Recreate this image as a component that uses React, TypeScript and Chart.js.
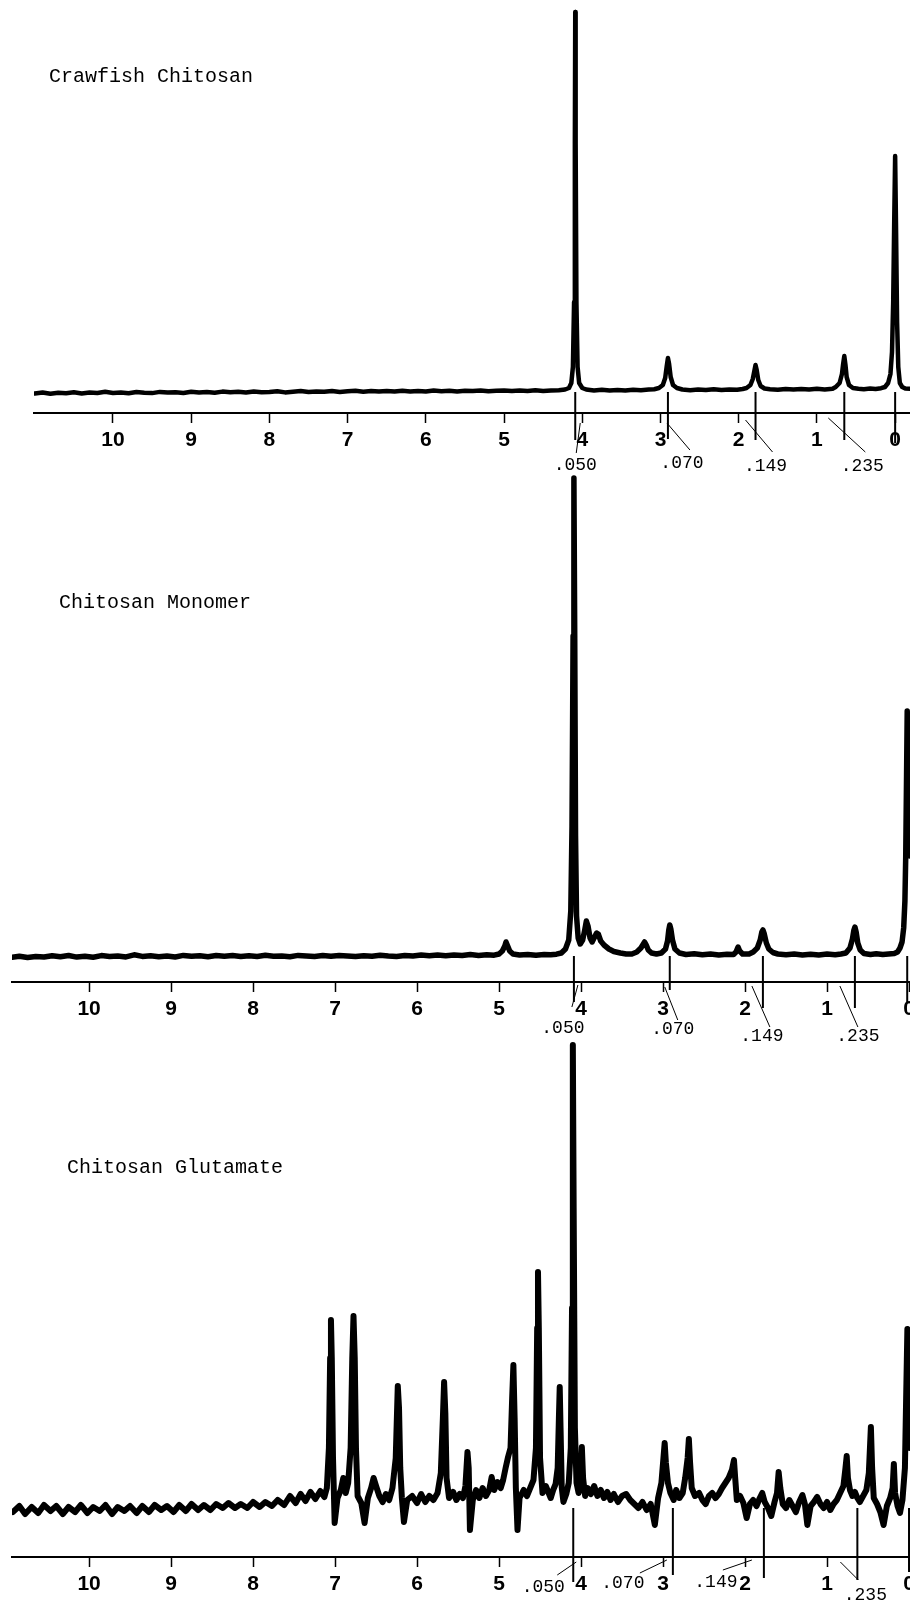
import React, { useEffect, useRef } from 'react';
import { Chart, registerables } from 'chart.js';

Chart.register(...registerables);

// ---------- data (chemical shift ppm, intensity above baseline) ----------
const tickValues = [10, 9, 8, 7, 6, 5, 4, 3, 2, 1, 0];
const integralLabels = ['.050', '.070', '.149', '.235', ''];

const crawfishSpectrum: [number, number][] = [
  [11.0,-1.5],[10.9,-0.5],[10.8,-1.8],[10.7,-0.8],[10.6,-1.2],[10.5,-0.3],[10.4,-1.4],[10.3,-0.6],[10.2,-1.0],[10.1,0.2],
  [10.0,-0.9],[9.9,-0.4],[9.8,-1.3],[9.7,0.0],[9.6,-0.7],[9.5,-1.1],[9.4,0.1],[9.3,-0.6],[9.2,-0.2],[9.1,-1.0],
  [9.0,0.3],[8.9,-0.5],[8.8,0.0],[8.7,-0.8],[8.6,0.4],[8.5,-0.3],[8.4,0.2],[8.3,-0.6],[8.2,0.5],[8.1,-0.2],
  [8.0,0.1],[7.9,0.8],[7.8,-0.4],[7.7,0.3],[7.6,0.9],[7.5,-0.1],[7.4,0.6],[7.3,0.2],[7.2,1.0],[7.1,0.0],
  [7.0,0.7],[6.9,1.2],[6.8,0.3],[6.7,0.9],[6.6,0.4],[6.5,1.1],[6.4,0.5],[6.3,1.3],[6.2,0.6],[6.1,1.0],
  [6.0,0.4],[5.9,1.4],[5.8,0.8],[5.7,1.2],[5.6,0.5],[5.5,1.3],[5.4,0.9],[5.3,1.5],[5.2,0.7],[5.1,1.2],
  [5.0,1.6],[4.9,0.9],[4.8,1.4],[4.7,1.0],[4.6,1.7],[4.5,1.1],[4.4,1.5],[4.3,1.8],
  [4.22,2.5],[4.17,4],[4.14,9],[4.12,25],[4.105,90],[4.095,250],[4.09,380],[4.085,250],[4.075,90],[4.06,25],[4.04,9],[4.0,4],[3.95,2.5],
  [3.85,1.6],[3.75,2.2],[3.65,1.5],[3.55,2.0],[3.45,1.4],[3.35,2.3],[3.25,1.7],[3.15,2.4],[3.08,2.8],
  [3.02,4],[2.97,7],[2.94,14],[2.92,26],[2.905,34],[2.89,28],[2.87,15],[2.84,7],[2.79,4],
  [2.72,2.5],[2.62,1.8],[2.52,2.6],[2.42,1.9],[2.32,2.7],[2.22,2.0],[2.12,2.6],[2.02,2.2],[1.95,3.0],
  [1.9,4],[1.85,7],[1.82,13],[1.8,21],[1.785,27],[1.77,22],[1.75,12],[1.72,6],[1.67,3.5],
  [1.6,2.8],[1.5,2.2],[1.4,3.0],[1.3,2.4],[1.2,3.1],[1.1,2.5],[1.0,3.2],[0.9,2.6],[0.8,3.3],
  [0.76,5],[0.71,9],[0.68,18],[0.665,28],[0.65,36],[0.635,27],[0.62,15],[0.59,7],[0.54,4],
  [0.47,3.2],[0.4,2.8],[0.32,3.4],[0.25,3.0],[0.18,3.8],
  [0.13,5],[0.09,9],[0.06,18],[0.04,40],[0.025,90],[0.012,170],[0.0,236],[-0.012,160],[-0.025,70],[-0.04,25],[-0.06,9],[-0.09,5],[-0.13,3.5],[-0.19,3.2],
];

const monomerSpectrum: [number, number][] = [
  [10.94,-1.2],[10.85,-0.2],[10.75,-1.5],[10.65,-0.4],[10.55,-1.0],[10.45,0.3],[10.35,-0.8],[10.25,0.5],[10.15,-1.1],[10.05,-0.3],
  [9.95,-1.2],[9.85,0.4],[9.75,-0.6],[9.65,0.1],[9.55,-0.9],[9.45,1.2],[9.35,-0.4],[9.25,0.3],[9.15,-0.7],[9.05,0.0],
  [8.95,-1.0],[8.85,0.6],[8.75,-0.3],[8.65,0.2],[8.55,-0.8],[8.45,0.5],[8.35,-0.2],[8.25,0.4],[8.15,-0.6],[8.05,0.3],
  [7.95,-0.4],[7.85,0.7],[7.75,-0.2],[7.65,0.1],[7.55,-0.7],[7.45,0.6],[7.35,0.0],[7.25,-0.5],[7.15,0.4],[7.05,-0.3],
  [6.95,0.5],[6.85,0.0],[6.75,-0.6],[6.65,0.3],[6.55,-0.2],[6.45,0.8],[6.35,0.1],[6.25,-0.4],[6.15,0.5],[6.05,0.0],
  [5.95,0.9],[5.85,0.2],[5.75,1.0],[5.65,0.3],[5.55,1.1],[5.45,0.4],[5.35,1.5],[5.25,0.6],[5.15,1.3],[5.06,0.8],
  [5.0,2],[4.96,5],[4.93,10],[4.915,14],[4.9,11],[4.87,5],[4.83,2],
  [4.75,1.0],[4.65,1.6],[4.55,0.8],[4.45,1.4],[4.37,1.2],[4.3,1.8],
  [4.24,3],[4.19,7],[4.15,16],[4.125,45],[4.11,130],[4.097,320],[4.087,478],[4.077,320],[4.067,120],[4.055,40],[4.035,18],[4.01,12],
  [3.98,16],[3.955,26],[3.935,35],[3.915,30],[3.89,18],[3.865,14],
  [3.835,19],[3.81,23],[3.79,22],[3.76,15],[3.72,11],[3.66,7],[3.6,4.5],[3.52,3],[3.45,2],
  [3.38,2],[3.32,4],[3.27,8],[3.24,12],[3.225,14],[3.205,11],[3.18,6],[3.14,3],[3.08,2],
  [3.02,3],[2.97,7],[2.945,15],[2.93,26],[2.918,31],[2.905,27],[2.885,16],[2.855,7],[2.8,3],
  [2.72,1.5],[2.62,2.2],[2.52,1.2],[2.42,2.0],[2.32,1.1],[2.22,1.8],[2.14,1.5],
  [2.11,4],[2.085,9],[2.065,5],[2.03,2],
  [1.95,2],[1.9,4],[1.85,8],[1.815,16],[1.795,24],[1.782,26],[1.765,22],[1.74,13],[1.71,7],[1.66,3.5],[1.6,2],
  [1.5,1.2],[1.4,2.0],[1.3,1.0],[1.2,1.8],[1.1,1.1],[1.0,1.9],[0.9,1.3],[0.83,2.0],
  [0.77,3],[0.72,8],[0.69,17],[0.672,26],[0.66,29],[0.645,24],[0.625,13],[0.595,6],[0.55,2.5],
  [0.47,1.5],[0.4,2.2],[0.32,1.4],[0.25,2.0],[0.18,2.5],
  [0.14,4],[0.11,8],[0.085,14],[0.065,28],[0.05,55],[0.04,100],[0.03,180],[0.022,245],[0.012,210],[0.0,150],[-0.012,100],
];

const glutamateSpectrum: [number, number][] = [
  [10.93,-4],[10.85,2],[10.78,-6],[10.7,1],[10.62,-5],[10.55,3],[10.47,-3],[10.4,2],[10.32,-6],[10.25,1],
  [10.17,-4],[10.1,3],[10.02,-5],[9.95,1],[9.87,-3],[9.8,3],[9.72,-6],[9.65,1],[9.57,-3],[9.5,2],
  [9.42,-5],[9.35,2],[9.27,-4],[9.2,3],[9.12,-2],[9.05,2],[8.97,-4],[8.9,3],[8.82,-3],[8.75,4],
  [8.67,-2],[8.6,3],[8.52,-2],[8.45,4],[8.37,0],[8.3,5],[8.22,0],[8.15,4],[8.07,0],[8.0,6],
  [7.92,1],[7.85,6],[7.77,2],[7.7,8],[7.62,3],[7.55,12],[7.48,5],[7.42,14],[7.36,7],[7.3,16],
  [7.24,9],[7.18,17],[7.13,11],[7.1,20],
  [7.075,60],[7.06,150],[7.05,188],[7.04,150],[7.025,50],[7.005,-15],[6.97,10],[6.93,18],[6.9,30],[6.87,15],
  [6.84,25],[6.81,60],[6.79,150],[6.775,192],[6.76,150],[6.745,60],[6.725,12],[6.68,5],[6.64,-15],[6.6,10],
  [6.56,20],[6.53,30],[6.5,22],[6.46,12],[6.42,6],[6.38,14],[6.34,8],[6.3,20],[6.26,50],[6.235,122],
  [6.22,100],[6.205,40],[6.185,10],[6.16,-14],[6.12,8],[6.06,12],[6.0,5],[5.95,14],[5.9,6],[5.85,12],
  [5.8,8],[5.75,15],[5.71,35],[5.685,90],[5.67,126],[5.655,95],[5.64,30],[5.61,10],[5.56,16],[5.52,8],
  [5.48,14],[5.44,10],[5.41,22],[5.385,56],[5.37,40],[5.355,-22],[5.32,8],[5.28,18],[5.24,10],[5.2,20],
  [5.16,12],[5.12,18],[5.09,31],[5.06,18],[5.02,26],[4.98,20],[4.95,28],[4.92,40],[4.89,51],[4.86,60],
  [4.84,110],[4.825,143],[4.81,90],[4.795,20],[4.775,-22],[4.75,10],[4.7,18],[4.66,12],[4.62,20],[4.58,28],
  [4.55,60],[4.535,180],[4.525,236],[4.515,180],[4.5,50],[4.47,15],[4.43,22],[4.4,16],[4.37,10],[4.34,18],
  [4.31,24],[4.285,40],[4.27,90],[4.26,121],[4.25,80],[4.235,20],[4.215,6],[4.18,14],[4.15,25],[4.125,60],
  [4.11,200],[4.1,463],[4.09,300],[4.075,80],[4.055,25],[4.03,15],[4.005,24],[3.99,61],[3.975,30],[3.95,12],
  [3.92,20],[3.88,14],[3.84,22],[3.8,12],[3.76,18],[3.72,10],[3.68,16],[3.64,8],[3.6,14],[3.55,6],
  [3.5,12],[3.45,14],[3.4,8],[3.35,4],[3.3,0],[3.25,6],[3.2,-2],[3.15,4],[3.1,-17],[3.06,10],
  [3.02,25],[2.995,50],[2.98,65],[2.965,45],[2.94,25],[2.91,15],[2.87,8],[2.84,18],[2.8,10],[2.76,15],
  [2.73,30],[2.7,50],[2.685,69],[2.67,45],[2.65,20],[2.61,12],[2.56,15],[2.52,8],[2.48,4],[2.44,12],
  [2.4,15],[2.36,10],[2.32,14],[2.28,20],[2.24,25],[2.2,30],[2.16,38],[2.135,48],[2.12,30],[2.1,8],
  [2.06,12],[2.02,5],[1.98,-10],[1.94,4],[1.9,8],[1.86,2],[1.82,10],[1.79,15],[1.76,6],[1.72,0],
  [1.68,-8],[1.64,6],[1.61,15],[1.59,36],[1.57,20],[1.54,4],[1.5,0],[1.46,8],[1.42,2],[1.38,-4],
  [1.34,6],[1.3,13],[1.27,4],[1.24,-17],[1.2,2],[1.16,6],[1.12,11],[1.08,4],[1.04,0],[1.0,6],
  [0.96,-2],[0.92,4],[0.88,8],[0.84,15],[0.8,22],[0.775,40],[0.76,52],[0.745,30],[0.72,18],[0.69,12],
  [0.66,16],[0.63,10],[0.6,6],[0.56,12],[0.52,18],[0.49,35],[0.465,81],[0.45,40],[0.43,10],[0.39,4],
  [0.35,-4],[0.31,-17],[0.27,2],[0.23,10],[0.2,20],[0.185,44],[0.17,15],[0.14,2],[0.11,-5],[0.08,8],
  [0.05,40],[0.035,110],[0.02,179],[0.005,100],[-0.012,60],
];

const crawfishMarkers = [4.09, 2.905, 1.785, 0.65, 0];
const monomerMarkers = [4.087, 2.918, 1.782, 0.66, 0.022];
const glutamateMarkers = [4.095, 2.88, 1.77, 0.63, 0];

// ---------- layout / style config ----------
const PAGE_W = 910;
const PAGE_H = 1604;
const TICK_LEN = 10;
const TICK_FONT = 21;
const TICK_PAD = 5;
const AXIS_BOX = TICK_LEN + TICK_FONT * 1.2 + TICK_PAD * 2;

type Panel = {
  title: string; titleX: number; titleY: number;
  data: [number, number][]; markers: number[];
  xMin: number; xMax: number; yMin: number; yMax: number;
  padLeft: number; padTop: number; axisY: number; lineWidth: number;
  drops: number[]; leaders: number[][]; texts: number[][];
};

const panels: Panel[] = [
  {
    title: 'Crawfish Chitosan', titleX: 49, titleY: 77,
    data: crawfishSpectrum, markers: crawfishMarkers,
    xMin: -0.19, xMax: 11.01, yMin: -21, yMax: 392,
    padLeft: 34, padTop: 0, axisY: 413, lineWidth: 4.5,
    drops: [27, 26, 27, 27, 30],
    leaders: [[5, 10, 1, 40], [-1, 10, 22, 37], [-10, 7, 17, 39], [-16, 5, 21, 39]],
    texts: [[0, 52], [14, 50], [10, 53], [18, 53]],
  },
  {
    title: 'Chitosan Monomer', titleX: 59, titleY: 603,
    data: monomerSpectrum, markers: monomerMarkers,
    xMin: -0.012, xMax: 10.94, yMin: -26, yMax: 486,
    padLeft: 12, padTop: 470, axisY: 982, lineWidth: 5.5,
    drops: [20, 8, 26, 26, 20],
    leaders: [[4, 3, -2, 25], [-5, 5, 8, 38], [-11, 4, 7, 45], [-15, 4, 3, 45]],
    texts: [[-11, 46], [3, 47], [-1, 54], [3, 54]],
  },
  {
    title: 'Chitosan Glutamate', titleX: 67, titleY: 1168,
    data: glutamateSpectrum, markers: glutamateMarkers,
    xMin: -0.012, xMax: 10.94, yMin: -49, yMax: 478,
    padLeft: 12, padTop: 1030, axisY: 1557, lineWidth: 6,
    drops: [25, 18, 21, 23, 15],
    leaders: [[3, 5, -16, 18], [-6, 3, -33, 16], [-12, 3, -41, 13], [-17, 5, 1, 23]],
    texts: [[-30, 30], [-50, 26], [-48, 25], [8, 38]],
  },
];

const MONO = '"Liberation Mono", "Courier New", Courier, monospace';

const nmrMarks = {
  id: 'nmrMarks',
  afterDatasetsDraw(chart: any, _args: any, opts: any) {
    const p: Panel = opts.panel;
    if (!p) return;
    const { ctx, chartArea } = chart;
    const xs = chart.scales.x;
    const ys = chart.scales.y;
    const axisY = chartArea.bottom;
    const baseY = ys.getPixelForValue(0);
    ctx.save();
    ctx.strokeStyle = '#000';
    ctx.fillStyle = '#000';
    p.markers.forEach((ppm, i) => {
      const px = xs.getPixelForValue(ppm);
      ctx.lineWidth = 2;
      ctx.beginPath();
      ctx.moveTo(px, baseY);
      ctx.lineTo(px, axisY + p.drops[i]);
      ctx.stroke();
      const label = integralLabels[i];
      if (label && p.leaders[i]) {
        const l = p.leaders[i];
        ctx.lineWidth = 1;
        ctx.beginPath();
        ctx.moveTo(px + l[0], axisY + l[1]);
        ctx.lineTo(px + l[2], axisY + l[3]);
        ctx.stroke();
        ctx.font = `18px ${MONO}`;
        ctx.textAlign = 'center';
        ctx.textBaseline = 'middle';
        ctx.fillText(label, px + p.texts[i][0], axisY + p.texts[i][1]);
      }
    });
    ctx.restore();
  },
};

function makeChart(canvas: HTMLCanvasElement, p: Panel) {
  return new Chart(canvas, {
    type: 'scatter',
    data: {
      datasets: [
        {
          data: p.data.map(([x, y]) => ({ x, y })),
          showLine: true,
          borderColor: '#000',
          backgroundColor: '#000',
          borderWidth: p.lineWidth,
          pointRadius: 0,
          tension: 0,
          fill: false,
          borderJoinStyle: 'round',
          borderCapStyle: 'round',
        } as any,
      ],
    },
    options: {
      animation: false,
      responsive: false,
      devicePixelRatio: 1,
      events: [],
      layout: {
        padding: {
          left: p.padLeft,
          right: 0,
          top: p.padTop,
          bottom: PAGE_H - p.axisY - AXIS_BOX,
        },
      },
      plugins: {
        legend: { display: false },
        tooltip: { enabled: false },
        title: { display: false },
        nmrMarks: { panel: p },
      } as any,
      scales: {
        x: {
          type: 'linear',
          reverse: true,
          min: p.xMin,
          max: p.xMax,
          position: 'bottom',
          afterBuildTicks: (axis: any) => {
            axis.ticks = tickValues.slice().reverse().map((v) => ({ value: v }));
          },
          grid: {
            display: true,
            drawOnChartArea: false,
            drawTicks: true,
            tickLength: TICK_LEN,
            tickWidth: 1.5,
            tickColor: '#000',
          },
          border: { display: true, color: '#000', width: 2 },
          ticks: {
            autoSkip: false,
            maxRotation: 0,
            minRotation: 0,
            padding: TICK_PAD,
            color: '#000',
            font: { family: '"Liberation Sans", Arial, sans-serif', size: TICK_FONT, weight: 'bold' },
            callback: (v: any) => String(v),
          },
        },
        y: {
          type: 'linear',
          display: false,
          min: p.yMin,
          max: p.yMax,
        },
      },
    } as any,
    plugins: [nmrMarks as any],
  });
}

export default function App() {
  const r1 = useRef<HTMLCanvasElement>(null);
  const r2 = useRef<HTMLCanvasElement>(null);
  const r3 = useRef<HTMLCanvasElement>(null);

  useEffect(() => {
    const refs = [r1, r2, r3];
    const charts = refs.map((r, i) => makeChart(r.current as HTMLCanvasElement, panels[i]));
    return () => charts.forEach((c) => c.destroy());
  }, []);

  const canvasStyle: React.CSSProperties = { position: 'absolute', left: 0, top: 0, width: PAGE_W, height: PAGE_H };

  return (
    <div style={{ position: 'absolute', left: 0, top: 0, width: PAGE_W, height: PAGE_H, background: '#fff', overflow: 'hidden' }}>
      <canvas ref={r1} width={PAGE_W} height={PAGE_H} style={canvasStyle} />
      <canvas ref={r2} width={PAGE_W} height={PAGE_H} style={canvasStyle} />
      <canvas ref={r3} width={PAGE_W} height={PAGE_H} style={canvasStyle} />
      {panels.map((p) => (
        <div
          key={p.title}
          style={{
            position: 'absolute',
            left: p.titleX,
            top: p.titleY - 12,
            fontFamily: MONO,
            fontSize: 20,
            lineHeight: '24px',
            color: '#000',
            whiteSpace: 'nowrap',
          }}
        >
          {p.title}
        </div>
      ))}
    </div>
  );
}
